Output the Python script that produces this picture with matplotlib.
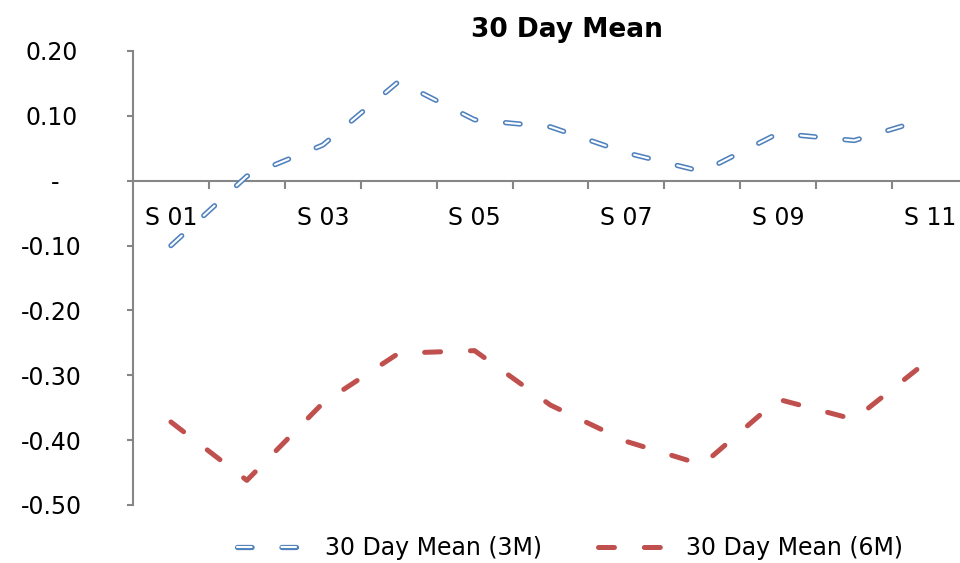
import matplotlib
matplotlib.use("Agg")
import matplotlib.pyplot as plt
from matplotlib.transforms import ScaledTranslation
from matplotlib.ticker import FixedLocator, NullFormatter

plt.rcParams['font.family'] = ['DejaVu Sans']
plt.rcParams['lines.scale_dashes'] = False

categories = ["S 01", "S 02", "S 03", "S 04", "S 05", "S 06",
              "S 07", "S 08", "S 09", "S 10", "S 11"]
mean_3m = [-0.100, 0.007, 0.055, 0.153, 0.094, 0.083,
           0.043, 0.014, 0.073, 0.062, 0.097]
mean_6m = [-0.372, -0.462, -0.343, -0.266, -0.262, -0.346,
           -0.402, -0.438, -0.337, -0.368, -0.275]
ytick_values = [0.20, 0.10, 0.0, -0.10, -0.20, -0.30, -0.40, -0.50]
ytick_labels = ["0.20", "0.10", "-", "-0.10", "-0.20", "-0.30", "-0.40", "-0.50"]

BLUE = "#4F81BD"
RED = "#C0504D"
GRAY = "#868686"
FS = 17

fig = plt.figure(figsize=(9.6, 5.63), dpi=100)
ax = fig.add_axes([133/960, 1 - 505/563, (968 - 133)/960, (505 - 51)/563])

x = list(range(len(categories)))

DASH3 = (10.5, 21.5)
l1o, = ax.plot(x, mean_3m, color=BLUE, lw=3.8, dashes=DASH3,
               dash_capstyle="round", zorder=3)
l1i, = ax.plot(x, mean_3m, color="white", lw=1.5, dashes=DASH3,
               dash_capstyle="round", zorder=4)
l2, = ax.plot(x, mean_6m, color=RED, lw=3.6, dashes=(11.5, 21.5),
              dash_capstyle="round", zorder=3)

ax.set_xlim(-0.5, len(categories) - 0.5)
ax.set_ylim(-0.5, 0.2)

for s in ["top", "right"]:
    ax.spines[s].set_visible(False)
ax.spines["bottom"].set_position(("data", 0))
for s in ["left", "bottom"]:
    ax.spines[s].set_color(GRAY)
    ax.spines[s].set_linewidth(1.5)

ax.set_xticks(x[::2])
ax.set_xticklabels(categories[::2], fontsize=FS)
ax.xaxis.set_minor_locator(FixedLocator([i - 0.5 for i in range(1, len(categories) + 1)]))
ax.xaxis.set_minor_formatter(NullFormatter())
ax.tick_params(axis="x", which="major", length=0, pad=18.5)
ax.tick_params(axis="x", which="minor", length=5.5, width=1.5, color=GRAY, direction="out")

ax.set_yticks(ytick_values)
ax.set_yticklabels(ytick_labels, fontsize=FS)
ax.tick_params(axis="y", length=4, width=1.5, color=GRAY, direction="out", pad=33)

for lab in ax.get_yticklabels():
    t = lab.get_text()
    if t == "-":
        dx = -22
    elif not t.startswith("-"):
        dx = -4
    else:
        dx = 0
    lab.set_transform(lab.get_transform() + ScaledTranslation(dx / 100, 0, fig.dpi_scale_trans))

fig.text(567/960, 1 - 30/563, "30 Day Mean", fontsize=19, fontweight="bold",
         ha="center", va="center")

fig.legend(handles=[(l1o, l1i), l2], labels=["30 Day Mean (3M)", "30 Day Mean (6M)"],
           loc="center", bbox_to_anchor=(570/960, 1 - 548/563),
           ncol=2, frameon=False, fontsize=FS, handlelength=2.9,
           handletextpad=0.8, columnspacing=2.4)

fig.savefig("out.png", dpi=100)
